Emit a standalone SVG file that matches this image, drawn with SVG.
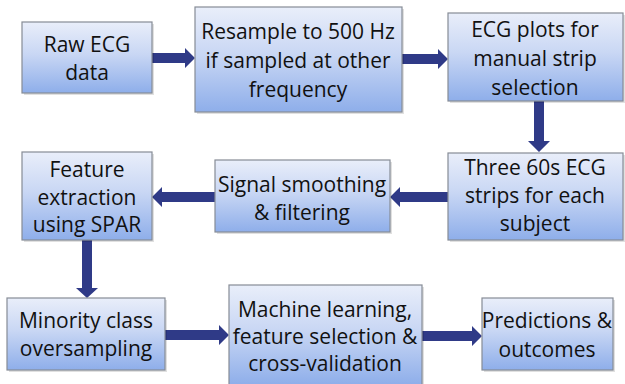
<svg xmlns="http://www.w3.org/2000/svg" width="625" height="384" viewBox="0 0 625 384">
<defs>
<linearGradient id="g" x1="0" y1="0" x2="0" y2="1">
<stop offset="0" stop-color="#e9eefa"/>
<stop offset="0.45" stop-color="#c9d7f4"/>
<stop offset="1" stop-color="#8eaeea"/>
</linearGradient>
</defs>
<style>
.box{fill:url(#g);stroke:#868c96;stroke-width:1.2}
.sh{fill:#000;opacity:0.12}
.t{font-family:"Open Sans","Liberation Sans",sans-serif;font-size:21px;fill:#111;text-anchor:middle}
.ar{fill:#2f3a87}
</style>
<rect width="625" height="384" fill="#fff"/>
<g id="connectors">
<polygon class="ar" points="152,53 185,53 185,48 195,58 185,68 185,63 152,63"/>
<polygon class="ar" points="402,54 438,54 438,49 448,59 438,69 438,64 402,64"/>
<polygon class="ar" points="534,101 544,101 544,141 550,141 539,152 528,141 534,141"/>
<polygon class="ar" points="448,192 400,192 400,187 390,197 400,207 400,202 448,202"/>
<polygon class="ar" points="215,192 162,192 162,187 152,197 162,207 162,202 215,202"/>
<polygon class="ar" points="82,240 92,240 92,288 98,288 87,298 76,288 82,288"/>
<polygon class="ar" points="165,330 219,330 219,325 229,335 219,345 219,340 165,340"/>
<polygon class="ar" points="422,331 472,331 472,326 482,336 472,346 472,341 422,341"/>
</g>
<g id="n1"><rect class="sh" x="24" y="24" width="130" height="71"/><rect class="box" x="22" y="22" width="130" height="71"/>
<text class="t" x="87" y="52">Raw ECG</text><text class="t" x="87" y="80">data</text></g>
<g id="n2"><rect class="sh" x="197" y="9" width="207" height="105"/><rect class="box" x="195" y="7" width="207" height="105"/>
<text class="t" x="298" y="39">Resample to 500 Hz</text><text class="t" x="298" y="68">if sampled at other</text><text class="t" x="298" y="97">frequency</text></g>
<g id="n3"><rect class="sh" x="450" y="15" width="175" height="88"/><rect class="box" x="448" y="13" width="175" height="88"/>
<text class="t" x="535" y="37">ECG plots for</text><text class="t" x="535" y="66">manual strip</text><text class="t" x="535" y="95">selection</text></g>
<g id="n4"><rect class="sh" x="450" y="155" width="175" height="87"/><rect class="box" x="448" y="153" width="175" height="87"/>
<text class="t" x="535" y="175">Three 60s ECG</text><text class="t" x="535" y="203">strips for each</text><text class="t" x="535" y="231">subject</text></g>
<g id="n5"><rect class="sh" x="217" y="162" width="175" height="72"/><rect class="box" x="215" y="160" width="175" height="72"/>
<text class="t" x="302" y="192">Signal smoothing</text><text class="t" x="302" y="220">&amp; filtering</text></g>
<g id="n6"><rect class="sh" x="24" y="154" width="130" height="88"/><rect class="box" x="22" y="152" width="130" height="88"/>
<text class="t" x="87" y="177">Feature</text><text class="t" x="87" y="205">extraction</text><text class="t" x="87" y="232">using SPAR</text></g>
<g id="n7"><rect class="sh" x="9" y="300" width="158" height="72"/><rect class="box" x="7" y="298" width="158" height="72"/>
<text class="t" x="86" y="328">Minority class</text><text class="t" x="86" y="356">oversampling</text></g>
<g id="n8"><rect class="sh" x="231" y="287" width="193" height="100"/><rect class="box" x="229" y="285" width="193" height="100"/>
<text class="t" x="325" y="317">Machine learning,</text><text class="t" x="325" y="344">feature selection &amp;</text><text class="t" x="325" y="371">cross-validation</text></g>
<g id="n9"><rect class="sh" x="484" y="300" width="131" height="72"/><rect class="box" x="482" y="298" width="131" height="72"/>
<text class="t" x="547" y="328">Predictions &amp;</text><text class="t" x="547" y="357">outcomes</text></g>
</svg>
